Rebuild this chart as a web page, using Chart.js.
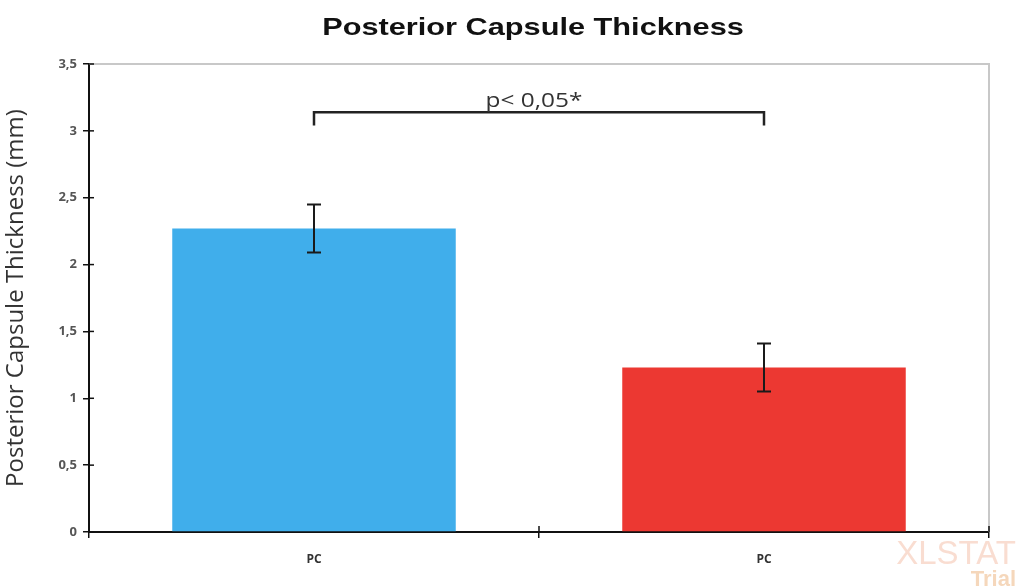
<!DOCTYPE html>
<html>
<head>
<meta charset="utf-8">
<script src="https://cdn.jsdelivr.net/npm/chart.js@4/dist/chart.umd.min.js"></script>
<style>
  html, body { margin: 0; padding: 0; background: #fff; }
</style>
</head>
<body>
<canvas id="grafico" width="1020" height="587"></canvas>
<script>
const categories = ['PC', 'PC'];
const means = [2.27, 1.23];
const errors = [0.18, 0.18];
const bar_colors = ['#40aeeb', '#ec3832'];
const chart_title = 'Posterior Capsule Thickness';
const y_title = 'Posterior Capsule Thickness (mm)';
const p_text = 'p< 0,05*';
const bracket_level = 3.14;
const bracket_drop = 0.1;

// error bars, significance bracket, inner ticks, frame, title and watermark
const extras = {
    id: 'extras',
    afterDatasetsDraw(chart) {
        const { ctx, chartArea: a, scales: { x, y } } = chart;
        ctx.save();

        // light frame top / right
        ctx.strokeStyle = '#c8c8c8';
        ctx.lineWidth = 2;
        ctx.beginPath();
        ctx.moveTo(a.left, a.top);
        ctx.lineTo(a.right, a.top);
        ctx.lineTo(a.right, a.bottom);
        ctx.stroke();

        // ticks crossing into the plot
        ctx.strokeStyle = '#111';
        ctx.lineWidth = 1.5;
        y.ticks.forEach((t, i) => {
            const py = y.getPixelForTick(i);
            ctx.beginPath();
            ctx.moveTo(a.left, py);
            ctx.lineTo(a.left + 5, py);
            ctx.stroke();
        });
        for (let i = 1; i <= categories.length; i++) {
            const px = i === categories.length ? a.right
                : (x.getPixelForValue(i - 1) + x.getPixelForValue(i)) / 2;
            ctx.beginPath();
            ctx.moveTo(px, a.bottom);
            ctx.lineTo(px, a.bottom - 6);
            ctx.stroke();
        }

        // error bars
        ctx.strokeStyle = '#1a1a1a';
        ctx.lineWidth = 2;
        means.forEach((m, i) => {
            const cx = x.getPixelForValue(i);
            const top = y.getPixelForValue(m + errors[i]);
            const bot = y.getPixelForValue(m - errors[i]);
            ctx.beginPath();
            ctx.moveTo(cx, top); ctx.lineTo(cx, bot);
            ctx.moveTo(cx - 7, top); ctx.lineTo(cx + 7, top);
            ctx.moveTo(cx - 7, bot); ctx.lineTo(cx + 7, bot);
            ctx.stroke();
        });

        // bracket
        const x0 = x.getPixelForValue(0);
        const x1 = x.getPixelForValue(1);
        const yl = y.getPixelForValue(bracket_level);
        const yd = y.getPixelForValue(bracket_level - bracket_drop);
        ctx.strokeStyle = '#222';
        ctx.lineWidth = 2.5;
        ctx.beginPath();
        ctx.moveTo(x0, yd);
        ctx.lineTo(x0, yl);
        ctx.lineTo(x1, yl);
        ctx.lineTo(x1, yd);
        ctx.stroke();

        ctx.fillStyle = '#333';
        ctx.textAlign = 'center';
        ctx.textBaseline = 'alphabetic';
        ctx.font = '20px "Open Sans"';
        ctx.save();
        ctx.translate((x0 + x1) / 2 - 5, yl - 5);
        ctx.scale(1.22, 1);
        ctx.fillText(p_text, 0, 0);
        ctx.restore();

        // title
        ctx.fillStyle = '#111';
        ctx.font = 'bold 24px "Liberation Sans"';
        ctx.save();
        ctx.translate(533, 35);
        ctx.scale(1.28, 1);
        ctx.fillText(chart_title, 0, 0);
        ctx.restore();

        // watermark
        ctx.textAlign = 'right';
        ctx.fillStyle = 'rgba(240,170,140,0.4)';
        ctx.font = '33px "Liberation Sans"';
        ctx.fillText('XLSTAT', 1016, 564);
        ctx.fillStyle = 'rgba(235,175,120,0.5)';
        ctx.font = 'bold 22px "Liberation Sans"';
        ctx.fillText('Trial', 1016, 586);

        ctx.restore();
    }
};

new Chart(document.getElementById('grafico'), {
    type: 'bar',
    data: {
        labels: categories,
        datasets: [
            {
                data: means,
                backgroundColor: bar_colors,
                borderWidth: 0,
                barPercentage: 0.63,
                categoryPercentage: 1,
            }
        ]
    },
    options: {
        responsive: false,
        animation: false,
        devicePixelRatio: 1,
        layout: { padding: { top: 64, right: 31, bottom: 0, left: 0 } },
        plugins: {
            legend: { display: false },
            tooltip: { enabled: false },
        },
        scales: {
            y: {
                min: 0,
                max: 3.5,
                afterFit: (scale) => { scale.width = 89; },
                ticks: {
                    stepSize: 0.5,
                    padding: 6,
                    color: '#555',
                    font: { family: 'Open Sans', size: 13, weight: 'bold' },
                    callback: (v) => String(v).replace('.', ','),
                },
                grid: {
                    drawOnChartArea: false,
                    tickLength: 6,
                    color: '#111',
                    lineWidth: 1.5,
                },
                border: { color: '#111', width: 2 },
                title: {
                    display: true,
                    text: y_title,
                    color: '#333',
                    font: { family: 'Open Sans', size: 24 },
                    padding: { top: 2, bottom: 0 },
                },
            },
            x: {
                afterFit: (scale) => { scale.height = 55; },
                ticks: {
                    padding: 14,
                    color: '#333',
                    font: { family: 'Open Sans', size: 12, weight: 'bold' },
                },
                grid: {
                    drawOnChartArea: false,
                    tickLength: 6,
                    color: '#111',
                    lineWidth: 1.5,
                },
                border: { color: '#111', width: 2 },
            },
        }
    },
    plugins: [extras]
});
</script>
</body>
</html>
